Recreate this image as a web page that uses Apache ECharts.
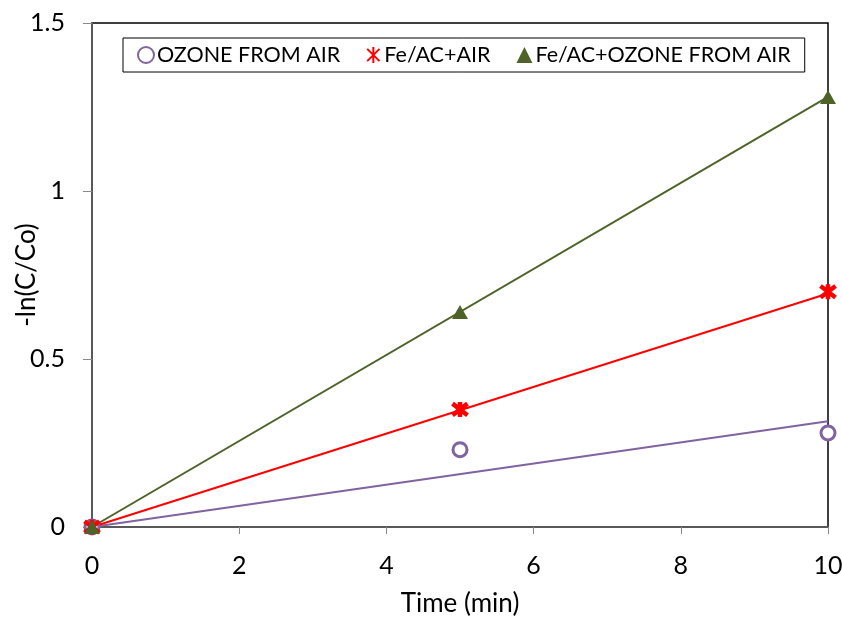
<!DOCTYPE html>
<html>
<head>
<meta charset="utf-8">
<script src="https://cdn.jsdelivr.net/npm/echarts@6/dist/echarts.min.js"></script>
<style>
html,body{margin:0;padding:0;background:#fff;}
#chart{width:842px;height:619px;}
</style>
</head>
<body>
<div id="chart"></div>
<script>
// Data
const timeMin = [0, 5, 10];
const ozoneFromAir = [0, 0.23, 0.28];
const feAcAir = [0, 0.35, 0.70];
const feAcOzone = [0, 0.64, 1.28];
// Linear trend lines (start and end at x = 0 and x = 10)
const trendX = [0, 10];
const ozoneTrend = [0, 0.315];
const feAcAirTrend = [0, 0.695];
const feAcOzoneTrend = [0, 1.28];

const seriesNames = ['OZONE FROM AIR', 'Fe/AC+AIR', 'Fe/AC+OZONE FROM AIR'];
const xTicks = [0, 2, 4, 6, 8, 10];
const yTicks = [0, 0.5, 1, 1.5];

const FONT = 'Lato';
const cPurple = '#8064A2', cRed = '#FF0000', cGreen = '#4F6228';
const asterisk = 'path://M0,0L10,10M10,0L0,10M5,-1.5L5,11.5';

function pairs(xs, ys){ return xs.map((x,i)=>[x, ys[i]]); }

const chart = echarts.init(document.getElementById('chart'), null, {renderer:'canvas'});
chart.setOption({
  animation:false,
  backgroundColor:'#ffffff',
  grid:{left:92, right:14, top:23, bottom:92, containLabel:false, outerBoundsMode:'none',
        show:true, borderColor:'#000', borderWidth:1.5, backgroundColor:'transparent'},
  legend:{
    data:seriesNames,
    left:123, top:38,
    padding:[6,14,6,14],
    itemGap:26,
    itemWidth:16, itemHeight:16,
    borderColor:'#000', borderWidth:1,
    backgroundColor:'#fff',
    textStyle:{fontFamily:FONT, fontSize:21.5, color:'#000', padding:[0,0,0,-2]}
  },
  xAxis:{
    type:'value', min:xTicks[0], max:xTicks[xTicks.length-1], interval:2,
    name:'Time (min)', nameLocation:'middle', nameGap:64, nameMoveOverlap:false,
    nameTextStyle:{fontFamily:FONT, fontSize:26, color:'#000'},
    axisLine:{show:true, onZero:false, lineStyle:{color:'#595959', width:2}},
    axisTick:{show:true, inside:false, length:7, lineStyle:{color:'#888'}},
    axisLabel:{fontFamily:FONT, fontSize:25, color:'#000', margin:26},
    splitLine:{show:false}
  },
  yAxis:{
    type:'value', min:yTicks[0], max:yTicks[yTicks.length-1], interval:0.5,
    name:'-ln(C/Co)', nameLocation:'middle', nameGap:52, nameRotate:90, nameMoveOverlap:false,
    nameTextStyle:{fontFamily:FONT, fontSize:26, color:'#000'},
    axisLine:{show:true, onZero:false, lineStyle:{color:'#595959', width:2}},
    axisTick:{show:true, inside:false, length:9, lineStyle:{color:'#888'}},
    axisLabel:{fontFamily:FONT, fontSize:25, color:'#000', margin:27},
    splitLine:{show:false}
  },
  series:[
    {type:'line', data:pairs(trendX, ozoneTrend), showSymbol:false, symbol:'none', silent:true,
     lineStyle:{color:cPurple, width:2}, z:2},
    {type:'line', data:pairs(trendX, feAcAirTrend), showSymbol:false, symbol:'none', silent:true,
     lineStyle:{color:cRed, width:2}, z:2},
    {type:'line', data:pairs(trendX, feAcOzoneTrend), showSymbol:false, symbol:'none', silent:true,
     lineStyle:{color:cGreen, width:2}, z:2},
    {name:seriesNames[0], type:'scatter', data:pairs(timeMin, ozoneFromAir), symbol:'circle', symbolSize:14,
     itemStyle:{color:'#fff', borderColor:cPurple, borderWidth:3, opacity:1}, z:3},
    {name:seriesNames[1], type:'scatter', data:pairs(timeMin, feAcAir), symbol:asterisk, symbolSize:15,
     itemStyle:{color:cRed, borderColor:cRed, borderWidth:4.5, opacity:1}, z:4},
    {name:seriesNames[2], type:'scatter', data:pairs(timeMin, feAcOzone), symbol:'triangle', symbolSize:[16,14],
     itemStyle:{color:cGreen, opacity:1}, z:5}
  ]
});
</script>
</body>
</html>
